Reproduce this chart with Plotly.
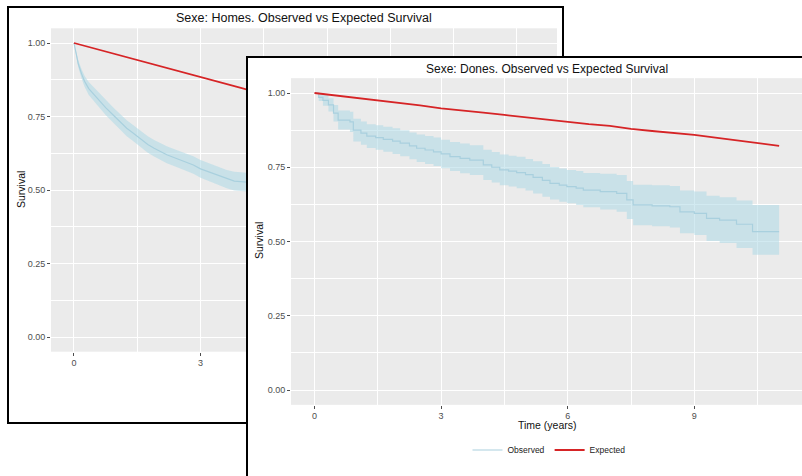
import plotly.graph_objects as go

W, H = 802, 476

# ---------------- Data: "Sexe: Homes" (back panel) ----------------
homes_time = [0, 0.05, 0.1, 0.18, 0.25, 0.35, 0.5, 0.62, 0.75, 0.88,
              1.0, 1.12, 1.25, 1.4, 1.5, 1.64, 1.75, 1.9, 2.04, 2.2,
              2.43, 2.6, 2.83, 3.0, 3.23, 3.4, 3.62, 3.8, 4.1, 4.4,
              5.0, 6.0, 7.0, 8.0, 9.0, 10.0, 10.9]
homes_obs = [1.0, 0.96, 0.93, 0.895, 0.87, 0.845, 0.82, 0.8, 0.78, 0.762,
             0.745, 0.727, 0.71, 0.694, 0.683, 0.667, 0.655, 0.642, 0.632, 0.62,
             0.607, 0.598, 0.585, 0.572, 0.56, 0.55, 0.537, 0.53, 0.527, 0.515,
             0.49, 0.455, 0.42, 0.39, 0.36, 0.335, 0.315]
homes_lower = [1.0, 0.952, 0.918, 0.879, 0.851, 0.823, 0.796, 0.775, 0.755, 0.736,
               0.719, 0.701, 0.683, 0.667, 0.656, 0.639, 0.627, 0.614, 0.604, 0.591,
               0.578, 0.569, 0.555, 0.542, 0.530, 0.519, 0.506, 0.498, 0.495, 0.483,
               0.457, 0.421, 0.385, 0.354, 0.322, 0.295, 0.273]
homes_upper = [1.0, 0.968, 0.942, 0.911, 0.889, 0.867, 0.844, 0.825, 0.805, 0.788,
               0.771, 0.753, 0.737, 0.721, 0.710, 0.695, 0.683, 0.670, 0.660, 0.649,
               0.636, 0.627, 0.615, 0.602, 0.590, 0.581, 0.568, 0.562, 0.559, 0.547,
               0.523, 0.489, 0.455, 0.426, 0.398, 0.375, 0.357]
homes_exp_time = [0, 1, 2, 3, 4, 5, 6, 7, 8, 9, 10, 10.9]
homes_exp = [1.0, 0.962, 0.924, 0.885, 0.846, 0.805, 0.763, 0.72, 0.676, 0.63, 0.583, 0.54]

# ---------------- Data: "Sexe: Dones" (front panel) ----------------
dones_time = [0, 0.1, 0.2, 0.33, 0.45, 0.56, 0.84, 0.92, 1.1, 1.24,
              1.45, 1.63, 1.85, 2.03, 2.25, 2.42, 2.62, 2.82, 3.0, 3.21,
              3.45, 3.68, 4.0, 4.2, 4.39, 4.6, 4.79, 5.0, 5.18, 5.4,
              5.58, 5.8, 5.98, 6.2, 6.37, 6.77, 7.16, 7.4, 7.55, 8.0,
              8.42, 8.66, 9.0, 9.29, 9.6, 10.0, 10.38, 11.01]
dones_obs = [1.0, 0.985, 0.975, 0.96, 0.932, 0.909, 0.903, 0.875, 0.865, 0.855,
             0.85, 0.844, 0.838, 0.831, 0.822, 0.814, 0.808, 0.802, 0.795, 0.786,
             0.78, 0.774, 0.758, 0.75, 0.741, 0.737, 0.732, 0.725, 0.716, 0.706,
             0.696, 0.69, 0.685, 0.68, 0.673, 0.668, 0.662, 0.64, 0.623, 0.62,
             0.617, 0.60, 0.595, 0.578, 0.572, 0.558, 0.533, 0.533]
dones_lower = [1.0, 0.973, 0.957, 0.938, 0.904, 0.877, 0.869, 0.837, 0.826, 0.815,
               0.809, 0.802, 0.795, 0.787, 0.777, 0.768, 0.761, 0.754, 0.747, 0.737,
               0.730, 0.724, 0.707, 0.699, 0.689, 0.685, 0.679, 0.672, 0.662, 0.651,
               0.641, 0.634, 0.629, 0.623, 0.615, 0.608, 0.600, 0.576, 0.555, 0.551,
               0.547, 0.528, 0.522, 0.502, 0.495, 0.478, 0.455, 0.455]
dones_upper = [1.0, 0.997, 0.993, 0.982, 0.960, 0.941, 0.937, 0.913, 0.904, 0.895,
               0.891, 0.886, 0.881, 0.875, 0.867, 0.860, 0.855, 0.850, 0.843, 0.835,
               0.830, 0.824, 0.809, 0.801, 0.793, 0.789, 0.785, 0.778, 0.770, 0.761,
               0.751, 0.746, 0.741, 0.737, 0.731, 0.728, 0.724, 0.704, 0.691, 0.689,
               0.687, 0.672, 0.668, 0.654, 0.649, 0.638, 0.623, 0.623]
dones_exp_time = [0, 0.5, 1, 1.5, 2, 2.5, 3, 3.5, 4, 4.5, 5, 5.5,
                  6, 6.5, 7, 7.5, 8, 8.5, 9, 9.5, 10, 10.5, 11.01]
dones_exp = [1.0, 0.992, 0.984, 0.976, 0.967, 0.958, 0.948, 0.942, 0.934, 0.926, 0.918, 0.911,
             0.903, 0.895, 0.889, 0.879, 0.872, 0.866, 0.859, 0.850, 0.841, 0.832, 0.822]

# ---------------- Ticks ----------------
y_ticks = [0, 0.25, 0.5, 0.75, 1.0]
y_tick_labels = ["0.00", "0.25", "0.50", "0.75", "1.00"]
y_minor = [0.125, 0.375, 0.625, 0.875]
x_ticks = [0, 3, 6, 9]
x_tick_labels = ["0", "3", "6", "9"]
x_minor = [1.5, 4.5, 7.5, 10.5]

titles = ["Sexe: Homes. Observed vs Expected Survival",
          "Sexe: Dones. Observed vs Expected Survival"]

FONT = "Liberation Sans, Arial, Helvetica, sans-serif"
BAND = "rgba(173,216,230,0.55)"
OBS_COLOR = "#A9D0DE"
EXP_COLOR = "#D62426"

fig = go.Figure()


def add_panel(xa, ya, t, obs, lo, hi, et, ex, legend, shape):
    fig.add_trace(go.Scatter(x=t, y=lo, xaxis=xa, yaxis=ya, mode="lines",
                             line=dict(width=0, shape=shape), showlegend=False,
                             hoverinfo="skip"))
    fig.add_trace(go.Scatter(x=t, y=hi, xaxis=xa, yaxis=ya, mode="lines",
                             line=dict(width=0, shape=shape), fill="tonexty",
                             fillcolor=BAND, showlegend=False, hoverinfo="skip"))
    fig.add_trace(go.Scatter(x=t, y=obs, xaxis=xa, yaxis=ya, mode="lines",
                             line=dict(width=1.2, shape=shape, color=OBS_COLOR),
                             name="Observed", showlegend=legend))
    fig.add_trace(go.Scatter(x=et, y=ex, xaxis=xa, yaxis=ya, mode="lines",
                             line=dict(width=1.8, color=EXP_COLOR),
                             name="Expected", showlegend=legend))


# back panel (Homes)
add_panel("x", "y", homes_time, homes_obs, homes_lower, homes_upper,
          homes_exp_time, homes_exp, False, "linear")

# cover sheet for the front plot (white page with black frame)
fig.add_trace(go.Scatter(x=[-1, 2, 2, -1, -1], y=[-1, -1, 2, 2, -1], xaxis="x2", yaxis="y2",
                         mode="lines", fill="toself", fillcolor="white",
                         line=dict(width=0, color="white"), showlegend=False,
                         hoverinfo="skip"))

# front panel (Dones)
add_panel("x3", "y3", dones_time, dones_obs, dones_lower, dones_upper,
          dones_exp_time, dones_exp, True, "hv")


def axis(domain, rng, tickvals, ticktext, minor_vals, anchor, standoff):
    return dict(domain=domain, range=rng, anchor=anchor, tickmode="array", tickvals=tickvals,
                ticktext=ticktext, showgrid=True, gridcolor="white", gridwidth=1.3,
                zeroline=False, showline=False, ticks="outside", ticklen=3,
                tickwidth=1, tickcolor="#4D4D4D", ticklabelstandoff=standoff,
                tickfont=dict(family=FONT, size=9, color="#4D4D4D"),
                minor=dict(tickmode="array", tickvals=minor_vals, showgrid=True,
                           gridcolor="white", gridwidth=0.6, ticks=""),
                fixedrange=True, automargin=False)


def px_x(p):
    return p / W


def px_y(p):
    return 1 - p / H


cover_axis = dict(range=[0, 1], visible=True, showgrid=False, zeroline=False,
                  showticklabels=False, ticks="", showline=True, mirror=True,
                  linecolor="black", linewidth=2, fixedrange=True, automargin=False)

fig.update_layout(
    width=W, height=H,
    margin=dict(l=0, r=0, t=0, b=0, autoexpand=False),
    paper_bgcolor="white",
    plot_bgcolor="#EBEBEB",
    hovermode=False,
    font=dict(family=FONT, color="#000000"),
    xaxis=axis([px_x(51), px_x(557)], [-0.545, 11.45], x_ticks, x_tick_labels, x_minor, "y", -1),
    yaxis=axis([px_y(351.7), px_y(28.3)], [-0.05, 1.05], y_ticks, y_tick_labels, y_minor, "x", 0),
    xaxis2=dict(cover_axis, domain=[px_x(248), 1], anchor="y2"),
    yaxis2=dict(cover_axis, domain=[0, px_y(58)], anchor="x2"),
    xaxis3=axis([px_x(291), 1], [-0.557, 11.552], x_ticks, x_tick_labels, x_minor, "y3", -1),
    yaxis3=axis([px_y(404.85), px_y(78.15)], [-0.05, 1.05], y_ticks, y_tick_labels, y_minor, "x3", 0),
    legend=dict(orientation="h", x=px_x(549), xanchor="center", y=px_y(450),
                yanchor="middle", font=dict(family=FONT, size=8.5, color="#222222"),
                bgcolor="rgba(0,0,0,0)", itemwidth=30, traceorder="normal"),
    shapes=[
        dict(type="rect", xref="paper", yref="paper", x0=px_x(8), x1=px_x(563),
             y0=px_y(423), y1=px_y(7), line=dict(color="black", width=2),
             fillcolor="rgba(0,0,0,0)", layer="below"),
    ],
    annotations=[
        dict(text=titles[0], x=px_x(304), y=px_y(18), xref="paper", yref="paper",
             showarrow=False, font=dict(family=FONT, size=12.5, color="#111111"),
             xanchor="center", yanchor="middle"),
        dict(text="Survival", x=px_x(21), y=px_y(190), xref="paper", yref="paper",
             showarrow=False, textangle=-90, font=dict(family=FONT, size=10.5, color="#111111"),
             xanchor="center", yanchor="middle"),
        dict(text=titles[1], x=px_x(547), y=px_y(69), xref="paper", yref="paper",
             showarrow=False, font=dict(family=FONT, size=12, color="#111111"),
             xanchor="center", yanchor="middle"),
        dict(text="Survival", x=px_x(259), y=px_y(241), xref="paper", yref="paper",
             showarrow=False, textangle=-90, font=dict(family=FONT, size=10.5, color="#111111"),
             xanchor="center", yanchor="middle"),
        dict(text="Time (years)", x=px_x(547), y=px_y(425), xref="paper", yref="paper",
             showarrow=False, font=dict(family=FONT, size=10.5, color="#111111"),
             xanchor="center", yanchor="middle"),
    ],
)

fig.write_html("out.html", config={"displayModeBar": False},
               post_script="document.body.style.margin='0';document.body.style.overflow='hidden';")
